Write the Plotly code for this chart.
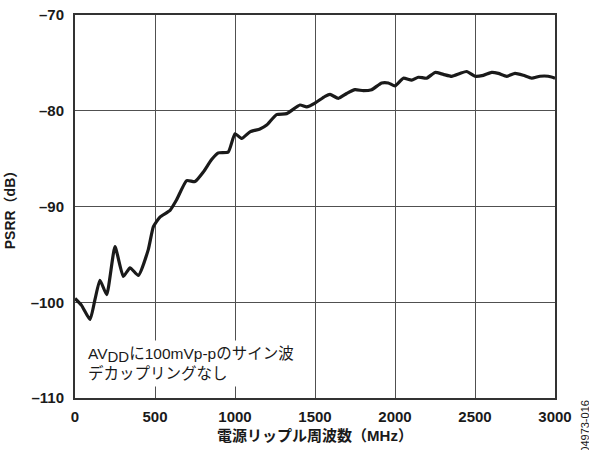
import plotly.graph_objects as go

freq_mhz = [0, 40, 94, 125, 156, 198, 250, 302, 344, 396,
            458, 490, 531, 594, 635, 698, 750, 802, 854, 896,
            958, 1000, 1042, 1094, 1156, 1198, 1260, 1323, 1406, 1448,
            1500, 1563, 1594, 1646, 1698, 1750, 1802, 1854, 1917, 1958,
            2000, 2052, 2104, 2146, 2198, 2250, 2302, 2354, 2406, 2448,
            2500, 2552, 2604, 2646, 2698, 2750, 2802, 2854, 2906, 2958,
            3000]
psrr_db = [-99.6, -100.3, -101.8, -99.7, -97.7, -99.2, -94.2, -97.3, -96.4, -97.2,
           -94.5, -92.1, -91.1, -90.4, -89.3, -87.3, -87.4, -86.4, -85.1, -84.4,
           -84.3, -82.4, -82.9, -82.2, -81.9, -81.5, -80.4, -80.3, -79.4, -79.6,
           -79.2, -78.5, -78.3, -78.7, -78.2, -77.8, -77.9, -77.8, -77.1, -77.1,
           -77.4, -76.6, -76.8, -76.5, -76.6, -76.0, -76.2, -76.4, -76.1, -75.9,
           -76.4, -76.3, -76.0, -76.1, -76.4, -76.1, -76.3, -76.6, -76.4, -76.4,
           -76.6]

x_ticks = [0, 500, 1000, 1500, 2000, 2500, 3000]
x_ticklabels = ["0", "500", "1000", "1500", "2000", "2500", "3000"]
y_ticks = [-110, -100, -90, -80, -70]
y_ticklabels = ["–110", "–100", "–90", "–80", "–70"]

x_title = "電源リップル周波数（MHz）"
y_title = "PSRR（dB）"
note_text = ("AV<sub><span style='font-size:15px'>DD</span></sub>に100mVp-pのサイン波"
             "<br>デカップリングなし")
fig_id = "04973-016"

font_fam = "Liberation Sans, Arial, Noto Sans CJK JP, sans-serif"
grid_col = "#505050"
frame_col = "#333333"

fig = go.Figure()
fig.add_trace(go.Scatter(
    x=freq_mhz, y=psrr_db, mode="lines",
    line=dict(color="#1a1a1a", width=3.2, shape="spline", smoothing=0.5),
    hoverinfo="skip", showlegend=False,
))

fig.update_layout(
    width=589, height=450,
    margin=dict(l=75, r=34, t=15, b=52, autoexpand=False),
    paper_bgcolor="white", plot_bgcolor="white",
    font=dict(family=font_fam, color="#1a1a1a"),
    xaxis=dict(
        range=[0, 3000], tickvals=x_ticks, ticktext=x_ticklabels,
        showgrid=True, gridcolor=grid_col, gridwidth=1.4,
        showline=True, linecolor=frame_col, linewidth=2, mirror=True,
        ticks="", zeroline=False, ticklabelstandoff=4, automargin=False,
        tickfont=dict(size=15, weight="bold", family=font_fam, color="#1a1a1a"),
        title=dict(text=x_title, standoff=6,
                   font=dict(size=15, weight="bold", family=font_fam, color="#1a1a1a")),
    ),
    yaxis=dict(
        range=[-110, -70], tickvals=y_ticks, ticktext=y_ticklabels,
        showgrid=True, gridcolor=grid_col, gridwidth=1.4,
        showline=True, linecolor=frame_col, linewidth=2, mirror=True,
        ticks="", zeroline=False, ticklabelstandoff=6, automargin=False,
        tickfont=dict(size=15, weight="bold", family=font_fam, color="#1a1a1a"),
        title=dict(text=y_title, standoff=12,
                   font=dict(size=14, weight="bold", family=font_fam, color="#1a1a1a")),
    ),
    annotations=[
        dict(text=note_text, xref="x", yref="y", x=50, y=-106.4,
             xanchor="left", yanchor="middle", align="left", showarrow=False,
             bgcolor="white", borderpad=4,
             font=dict(size=15.5, family=font_fam, color="#1a1a1a")),
        dict(text=fig_id, xref="paper", yref="paper", x=1.0625, y=-0.075,
             xanchor="center", yanchor="middle", textangle=-90, showarrow=False,
             font=dict(size=11, family=font_fam, color="#1a1a1a")),
    ],
)

fig.write_html("out.html")
